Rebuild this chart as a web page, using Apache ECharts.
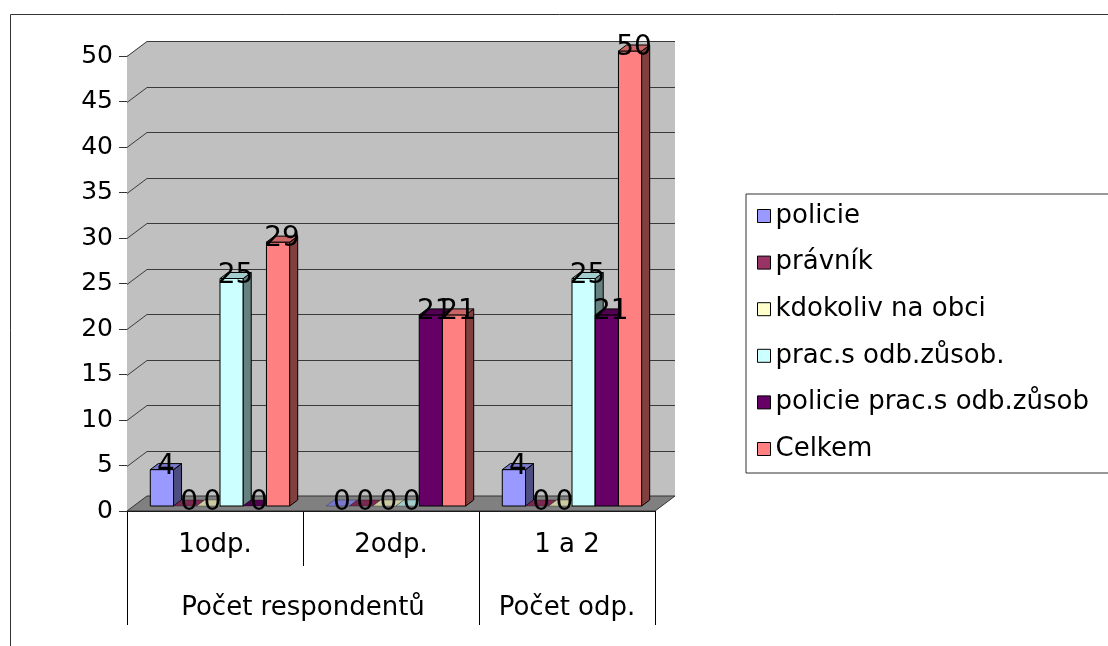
<!DOCTYPE html>
<html>
<head>
<meta charset="utf-8">
<script src="https://cdn.jsdelivr.net/npm/echarts@6/dist/echarts.min.js"></script>
<style>
  html, body { margin: 0; padding: 0; background: #fff; }
  #chart { width: 1108px; height: 646px; }
</style>
</head>
<body>
<div id="chart"></div>
<script>
// data
var categories = ['1odp.', '2odp.', '1 a 2'];
var groupLabels = ['Počet respondentů', 'Počet odp.'];
var seriesNames = ['policie', 'právník', 'kdokoliv na obci', 'prac.s odb.zůsob.', 'policie prac.s odb.zůsob', 'Celkem'];
var policie = [4, 0, 4];
var pravnik = [0, 0, 0];
var kdokoliv = [0, 0, 0];
var pracOdb = [25, 0, 25];
var policiePracOdb = [0, 21, 21];
var celkem = [29, 21, 50];
var yTicks = [0, 5, 10, 15, 20, 25, 30, 35, 40, 45, 50];

var seriesValues = [policie, pravnik, kdokoliv, pracOdb, policiePracOdb, celkem];
var colors = ['#9999FF', '#993366', '#FFFFCC', '#CCFFFF', '#660066', '#FF8080'];

var FONT = 'DejaVu Sans';
var WALL_DX = 20, WALL_DY = -15;   // depth of the 3d box
var BAR_DX = 8, BAR_DY = -6;       // depth of one bar
var PLANE_DX = 5, PLANE_DY = -5;   // front plane of the bars

function shade(hex, k) {
    var n = parseInt(hex.slice(1), 16);
    var r = Math.round(((n >> 16) & 255) * k);
    var g = Math.round(((n >> 8) & 255) * k);
    var b = Math.round((n & 255) * k);
    return 'rgb(' + r + ',' + g + ',' + b + ')';
}

//墙和地板
function renderWalls(params, api) {
    var cs = params.coordSys;
    var x = cs.x, y = cs.y, w = cs.width, h = cs.height;
    var children = [];
    children.push({
        type: 'polygon',
        shape: { points: [[x, y], [x + WALL_DX, y + WALL_DY], [x + w + WALL_DX, y + WALL_DY],
                          [x + w + WALL_DX, y + h + WALL_DY], [x, y + h]] },
        style: { fill: '#C0C0C0' }
    });
    children.push({
        type: 'polygon',
        shape: { points: [[x, y + h], [x + WALL_DX, y + h + WALL_DY], [x + w + WALL_DX, y + h + WALL_DY], [x + w, y + h]] },
        style: { fill: '#808080', stroke: '#333', lineWidth: 1 }
    });
    for (var i = 1; i < yTicks.length; i++) {
        var yy = Math.round(api.coord([0, yTicks[i]])[1]) + 0.5;
        children.push({
            type: 'polyline',
            shape: { points: [[x, yy], [x + WALL_DX, yy + WALL_DY], [x + w + WALL_DX, yy + WALL_DY]] },
            style: { stroke: '#3a3a3a', lineWidth: 1, fill: null }
        });
    }
    return { type: 'group', children: children };
}

//3d柱子
function makeBarRenderer(si) {
    return function (params, api) {
        var cat = api.value(0), val = api.value(1);
        var base = api.coord([cat, 0]);
        var top = api.coord([cat, val]);
        var bandW = api.size([1, 0])[0];
        var bw = bandW * 0.132;
        var x0 = base[0] + PLANE_DX - 3 * bw + si * bw;
        var x1 = x0 + bw;
        var yb = base[1] + PLANE_DY;
        var yt = top[1] + PLANE_DY;
        var c = colors[si];
        var children = [];
        if (val > 0) {
            children.push({
                type: 'polygon',
                shape: { points: [[x0, yt], [x1, yt], [x1, yb], [x0, yb]] },
                style: { fill: c, stroke: '#000', lineWidth: 1 }
            });
            children.push({
                type: 'polygon',
                shape: { points: [[x1, yt], [x1 + BAR_DX, yt + BAR_DY], [x1 + BAR_DX, yb + BAR_DY], [x1, yb]] },
                style: { fill: shade(c, 0.5), stroke: '#000', lineWidth: 1 }
            });
        }
        children.push({
            type: 'polygon',
            shape: { points: [[x0, yt], [x1, yt], [x1 + BAR_DX, yt + BAR_DY], [x0 + BAR_DX, yt + BAR_DY]] },
            style: { fill: shade(c, 0.8), stroke: '#000', lineWidth: val > 0 ? 1 : 0.3 }
        });
        children.push({
            type: 'text',
            z2: 100,
            style: {
                text: String(val),
                x: x0 + bw / 2 + BAR_DX / 2,
                y: yt - 3,
                align: 'center',
                verticalAlign: 'middle',
                fontSize: 28,
                fontFamily: FONT,
                fill: '#000'
            }
        });
        return { type: 'group', children: children };
    };
}

var myChart = echarts.init(document.getElementById('chart'));

var series = [{
    name: 'walls',
    type: 'custom',
    z: 1,
    silent: true,
    clip: false,
    renderItem: renderWalls,
    data: [[0, 0]]
}];
seriesNames.forEach(function (name, si) {
    series.push({
        name: name,
        type: 'custom',
        z: 2,
        clip: false,
        itemStyle: { color: colors[si], borderColor: '#000', borderWidth: 1 },
        renderItem: makeBarRenderer(si),
        data: seriesValues[si].map(function (v, ci) { return [ci, v]; })
    });
});

var option = {
    animation: false,
    textStyle: { fontFamily: FONT },
    graphic: [{
        type: 'rect',
        left: 8, top: 12,
        shape: { width: 1200, height: 700 },
        style: { fill: null, stroke: '#333', lineWidth: 1 },
        silent: true
    }],
    legend: {
        data: seriesNames,
        orient: 'vertical',
        left: 746,
        top: 194,
        padding: [8, 80, 10, 11],
        itemWidth: 13,
        itemHeight: 13,
        itemGap: 18.6,
        icon: 'rect',
        borderColor: '#333',
        borderWidth: 1,
        itemStyle: { borderColor: '#000', borderWidth: 1 },
        textStyle: { fontSize: 26, lineHeight: 28, color: '#000', fontFamily: FONT }
    },
    grid: {
        left: 127,
        right: 453,
        top: 56,
        bottom: 135,
        containLabel: false
    },
    xAxis: [{
        type: 'category',
        data: categories,
        axisLine: { lineStyle: { color: '#000' } },
        axisTick: { show: true, length: 55, interval: 0, lineStyle: { color: '#000' } },
        axisLabel: { fontSize: 26, color: '#000', margin: 21, fontFamily: FONT },
        splitLine: { show: false }
    }, {
        type: 'value',
        min: 0,
        max: 3,
        position: 'bottom',
        offset: 55,
        axisLine: { show: false },
        axisTick: { show: true, customValues: [0, 2, 3], length: 59, lineStyle: { color: '#000' } },
        axisLabel: {
            fontSize: 26, color: '#000', margin: 29, fontFamily: FONT,
            customValues: [1, 2.5],
            formatter: function (v) { return v < 2 ? groupLabels[0] : groupLabels[1]; }
        },
        splitLine: { show: false }
    }],
    yAxis: {
        type: 'value',
        min: 0,
        max: 50,
        interval: 5,
        axisLine: { show: true, lineStyle: { color: '#808080' } },
        axisTick: { show: true, length: 8, lineStyle: { color: '#333' } },
        axisLabel: { fontSize: 25, color: '#000', margin: 14, fontFamily: FONT },
        splitLine: { show: false }
    },
    series: series
};
myChart.setOption(option);
</script>
</body>
</html>
